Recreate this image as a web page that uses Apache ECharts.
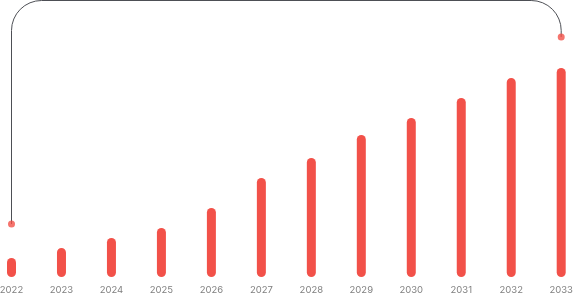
<!DOCTYPE html>
<html>
<head>
<meta charset="utf-8">
<script src="https://cdn.jsdelivr.net/npm/echarts@6/dist/echarts.min.js"></script>
<style>html,body{margin:0;padding:0;background:#fff;}#c{width:573px;height:295px;}</style>
</head>
<body>
<div id="c"></div>
<script>
var categories = ['2022','2023','2024','2025','2026','2027','2028','2029','2030','2031','2032','2033'];
var values = [19, 29, 39, 49, 69, 99, 119, 142, 159, 179, 199, 209];
var connectorStart = 53;   // value of the dot above 2022
var connectorEnd = 240;    // value of the dot above 2033
var connectorTop = 276.5;  // level of the top connector line
var yMax = 277;

var chart = echarts.init(document.getElementById('c'));
chart.setOption({
  animation: false,
  grid: { left: 11.5, right: 11.8, top: 0, bottom: 18, containLabel: false, outerBoundsMode: 'none' },
  xAxis: {
    type: 'category', data: categories, boundaryGap: false,
    axisLine: { show: false }, axisTick: { show: false }, splitLine: { show: false },
    axisLabel: { color: '#7f7f7f', fontSize: 9.5, fontFamily: 'Inter, sans-serif', margin: 8, interval: 0, hideOverlap: false }
  },
  yAxis: { type: 'value', min: 0, max: yMax, show: false, splitLine: { show: false } },
  series: [
    {
      type: 'bar', data: values, barWidth: 9,
      itemStyle: { color: '#f25149', borderRadius: 4.5 }, z: 2
    },
    {
      type: 'custom', z: 3,
      data: [[0, connectorStart, categories.length - 1, connectorEnd, connectorTop]],
      encode: { x: [0, 2], y: [1, 3] },
      renderItem: function (params, api) {
        var p1 = api.coord([api.value(0), api.value(1)]);
        var p2 = api.coord([api.value(2), api.value(3)]);
        var top = api.coord([api.value(0), api.value(4)])[1];
        var r = 30;
        var d = 'M' + p1[0] + ' ' + p1[1] +
          ' L' + p1[0] + ' ' + (top + r) +
          ' A' + r + ' ' + r + ' 0 0 1 ' + (p1[0] + r) + ' ' + top +
          ' L' + (p2[0] - r) + ' ' + top +
          ' A' + r + ' ' + r + ' 0 0 1 ' + p2[0] + ' ' + (top + r) +
          ' L' + p2[0] + ' ' + p2[1];
        return {
          type: 'path',
          shape: { pathData: d },
          style: { fill: null, stroke: '#4d4f55', lineWidth: 1 }
        };
      }
    },
    {
      type: 'scatter', z: 4, symbol: 'circle', symbolSize: 7,
      itemStyle: { color: '#f25149' },
      data: [[0, connectorStart], [categories.length - 1, connectorEnd]]
    }
  ]
});
</script>
</body>
</html>
